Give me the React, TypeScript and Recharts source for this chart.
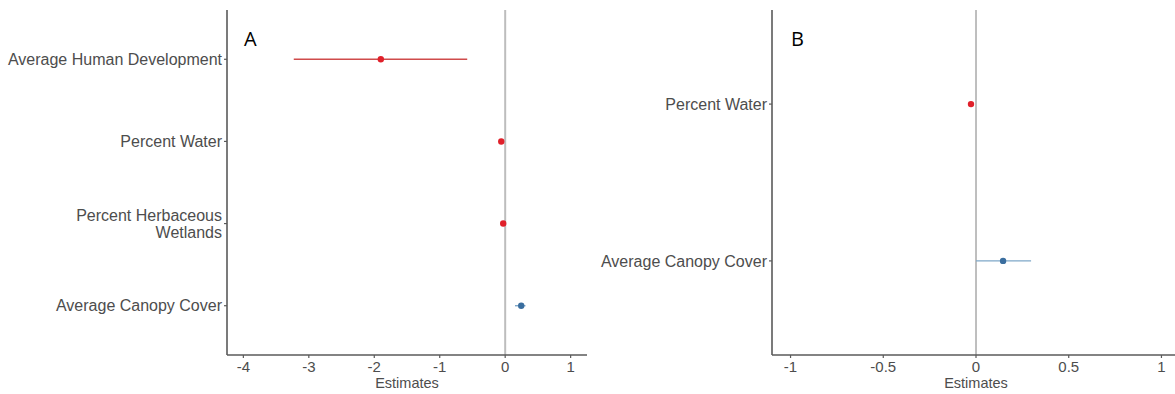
import React from 'react';
import { ScatterChart, Scatter, XAxis, YAxis, ErrorBar, ReferenceLine } from 'recharts';

// Panel A
const categoriesA = ['Average Human Development', 'Percent Water', 'Percent Herbaceous\nWetlands', 'Average Canopy Cover'];
const estimatesA = [-1.9, -0.06, -0.03, 0.245];
const lowerA = [-3.23, -0.08, -0.05, 0.15];
const upperA = [-0.58, -0.04, -0.01, 0.31];
const ticksA = [-4, -3, -2, -1, 0, 1];
const domainA: [number, number] = [-4.25, 1.25];

// Panel B
const categoriesB = ['Percent Water', 'Average Canopy Cover'];
const estimatesB = [-0.027, 0.146];
const lowerB = [-0.035, 0.0];
const upperB = [-0.019, 0.297];
const ticksB = [-1, -0.5, 0, 0.5, 1];
const domainB: [number, number] = [-1.1, 1.1];

const RED = '#e0202a';
const RED_LINE = '#cf4b4b';
const BLUE = '#3a6e9f';
const BLUE_LINE = '#7ea7c8';
const AXIS = '#5a5a5a';
const TEXT = '#4d4d4d';
const FONT = '"Liberation Sans", Arial, sans-serif';

function build(cats: string[], est: number[], lo: number[], hi: number[]) {
  return cats.map((name, i) => ({
    name,
    pos: i + 1,
    est: est[i],
    err: [est[i] - lo[i], hi[i] - est[i]],
  }));
}

const dot = (color: string) => (props: any) => (
  <circle cx={props.cx} cy={props.cy} r={3.2} fill={color} />
);

const makeYTick = (labels: string[]) => (props: any) => {
  const { x, y, payload } = props;
  const lines = labels[Math.round(payload.value) - 1].split('\n');
  const lh = 17;
  const y0 = y - ((lines.length - 1) * lh) / 2;
  return (
    <text x={x} y={y0} textAnchor="end" fill={TEXT} fontSize={16} fontFamily={FONT}>
      {lines.map((l, i) => (
        <tspan key={i} x={x} y={y0 + i * lh} dy="0.35em">
          {l}
        </tspan>
      ))}
    </text>
  );
};

function Panel(props: {
  cats: string[];
  est: number[];
  lo: number[];
  hi: number[];
  ticks: number[];
  domain: [number, number];
  yWidth: number;
  width: number;
  marginRight: number;
  zeroColor: string;
  zeroWidth: number;
  lineColorRed: string;
  lineColorBlue: string;
}) {
  const data = build(props.cats, props.est, props.lo, props.hi);
  const red = data.filter((d) => d.est < 0);
  const blue = data.filter((d) => d.est >= 0);
  const n = props.cats.length;
  return (
    <ScatterChart
      width={props.width}
      height={394}
      margin={{ top: 10, right: props.marginRight, bottom: 0, left: 0 }}
    >
      <XAxis
        type="number"
        dataKey="est"
        domain={props.domain}
        ticks={props.ticks}
        allowDataOverflow
        stroke={AXIS}
        axisLine={{ stroke: AXIS, strokeWidth: 1.6 }}
        tickLine={{ stroke: AXIS, strokeWidth: 1.2 }}
        tickSize={3}
        tickMargin={3}
        tick={{ fill: TEXT, fontSize: 15, fontFamily: FONT }}
        height={39}
        label={{ value: 'Estimates', position: 'insideBottom', offset: 6, fill: TEXT, fontSize: 14.5, fontFamily: FONT }}
      />
      <YAxis
        type="number"
        dataKey="pos"
        domain={[0.4, n + 0.6]}
        ticks={props.cats.map((_, i) => i + 1)}
        reversed
        allowDataOverflow
        width={props.yWidth}
        axisLine={{ stroke: AXIS, strokeWidth: 1.6 }}
        tickLine={{ stroke: AXIS, strokeWidth: 1.2 }}
        tickSize={3}
        tickMargin={2}
        tick={makeYTick(props.cats)}
        interval={0}
      />
      <ReferenceLine x={0} stroke={props.zeroColor} strokeWidth={props.zeroWidth} />
      <Scatter data={red} isAnimationActive={false} shape={dot(RED)} fill={RED}>
        <ErrorBar dataKey="err" direction="x" width={0} stroke={props.lineColorRed} strokeWidth={1.4} />
      </Scatter>
      <Scatter data={blue} isAnimationActive={false} shape={dot(BLUE)} fill={BLUE}>
        <ErrorBar dataKey="err" direction="x" width={0} stroke={props.lineColorBlue} strokeWidth={1.4} />
      </Scatter>
    </ScatterChart>
  );
}

const letterStyle: React.CSSProperties = {
  position: 'absolute',
  fontFamily: '"Open Sans", sans-serif',
  fontSize: 20,
  color: '#000',
  lineHeight: '20px',
};

export default function App() {
  return (
    <div
      style={{
        position: 'absolute',
        left: 0,
        top: 0,
        width: 1175,
        height: 394,
        overflow: 'hidden',
        background: '#fff',
      }}
    >
      <div style={{ position: 'absolute', left: 0, top: 0 }}>
        <Panel
          cats={categoriesA}
          est={estimatesA}
          lo={lowerA}
          hi={upperA}
          ticks={ticksA}
          domain={domainA}
          yWidth={227}
          width={600}
          marginRight={13}
          zeroColor="#bdbdbd"
          zeroWidth={2}
          lineColorRed={RED_LINE}
          lineColorBlue={BLUE_LINE}
        />
      </div>
      <div style={{ position: 'absolute', left: 580, top: 0 }}>
        <Panel
          cats={categoriesB}
          est={estimatesB}
          lo={lowerB}
          hi={upperB}
          ticks={ticksB}
          domain={domainB}
          yWidth={192}
          width={600}
          marginRight={0}
          zeroColor="#7f7f7f"
          zeroWidth={1}
          lineColorRed={RED_LINE}
          lineColorBlue={BLUE_LINE}
        />
      </div>
      <div style={{ ...letterStyle, left: 244, top: 29 }}>A</div>
      <div style={{ ...letterStyle, left: 791, top: 29 }}>B</div>
    </div>
  );
}
